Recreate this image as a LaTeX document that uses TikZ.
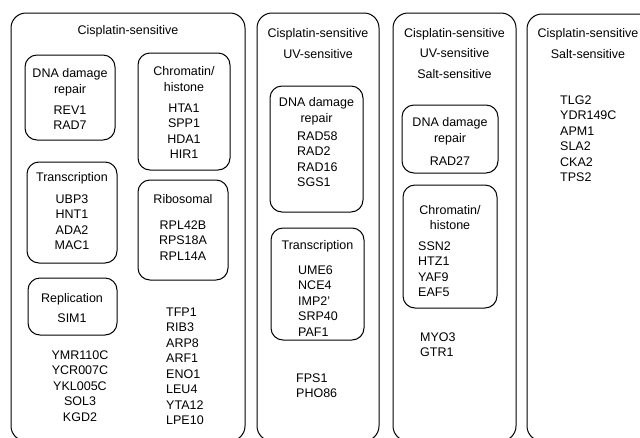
\documentclass[tikz,border=0pt]{standalone}
\usepackage{fontspec}
\setmainfont{Liberation Sans}
\usepackage{tikz}
\tikzset{
    panel/.style    = {draw, line width=1pt, rounded corners=15pt},
    cluster/.style  = {draw, line width=1pt, rounded corners=12pt},
    title/.style    = {align=center, anchor=north, inner sep=0pt,
        font=\fontsize{12.5}{20.5}\selectfont},
    genes/.style    = {align=center, anchor=north, inner sep=0pt},
    geneleft/.style = {align=left, anchor=north west, inner sep=0pt}
}

\begin{document}
\begin{tikzpicture}
            [
            x                 = 1pt,
            y                 = -1pt,
            every node/.style = {font=\fontsize{12.5}{15.5}\selectfont}
            ]
            \useasboundingbox (0,0) rectangle (640,437);
            \clip (0,0) rectangle (640,437);
            % outer panels
            \draw[panel] (11,13) rectangle (245,441);
            \draw[panel] (257,13) rectangle (379,441);
            \draw[panel] (393,13) rectangle (516,441);
            \draw[panel] (527,14) rectangle (660,441);
            % panel 1
            \node[title] (t1) at (128,25.5) {Cisplatin-sensitive};
            \draw[cluster] (25,55) rectangle (115,140);
            \node[genes] (dnaA) at (70,68.5) {DNA damage\\repair};
            \node[genes] (dnaAg) at (70,105.5) {REV1\\RAD7};
            \draw[cluster] (138,53) rectangle (230,170);
            \node[genes] (chrA) at (184,66.5) {Chromatin/\\histone};
            \node[genes] (chrAg) at (184,103.5) {HTA1\\SPP1\\HDA1\\HIR1};
            \draw[cluster] (27,162) rectangle (117,263);
            \node[genes] (trA) at (72,172.5) {Transcription};
            \node[genes] (trAg) at (72,194.5) {UBP3\\HNT1\\ADA2\\MAC1};
            \draw[cluster] (138,180) rectangle (228,280);
            \node[genes] (ribA) at (183,194.5) {Ribosomal};
            \node[genes] (ribAg) at (183,220.5) {RPL42B\\RPS18A\\RPL14A};
            \draw[cluster] (28,278) rectangle (117,335);
            \node[genes] (repA) at (72,293.5) {Replication};
            \node[genes] (repAg) at (72,313.5) {SIM1};
            \node[genes] (othA) at (80,350.5) {YMR110C\\YCR007C\\YKL005C\\SOL3\\KGD2};
            \node[geneleft] (othB) at (166,307.5) {TFP1\\RIB3\\ARP8\\ARF1\\ENO1\\LEU4\\YTA12\\LPE10};
            % panel 2
            \node[title] (t2) at (318,28.5) {Cisplatin-sensitive\\UV-sensitive};
            \draw[cluster] (270,86) rectangle (363,212);
            \node[genes] (dnaB) at (316.5,97.5) {DNA damage\\repair};
            \node[geneleft] (dnaBg) at (297,131.5) {RAD58\\RAD2\\RAD16\\SGS1};
            \draw[cluster] (271,228) rectangle (364,340);
            \node[genes] (trB) at (317.5,240.5) {Transcription};
            \node[geneleft] (trBg) at (298,265.5) {UME6\\NCE4\\IMP2'\\SRP40\\PAF1};
            \node[geneleft] (othC) at (296,373.5) {FPS1\\PHO86};
            % panel 3
            \node[title] (t3) at (454.5,28) {Cisplatin-sensitive\\UV-sensitive\\Salt-sensitive};
            \draw[cluster] (402,105) rectangle (498,173);
            \node[genes] (dnaC) at (450,117.5) {DNA damage\\repair};
            \node[genes] (dnaCg) at (450,156.5) {RAD27};
            \draw[cluster] (403,185) rectangle (497,308);
            \node[genes] (chrC) at (450,205) {Chromatin/\\histone};
            \node[geneleft] (chrCg) at (418,241.5) {SSN2\\HTZ1\\YAF9\\EAF5};
            \node[geneleft] (othD) at (420,332.5) {MYO3\\GTR1};
            % panel 4
            \node[title] (t4) at (588,28.5) {Cisplatin-sensitive\\Salt-sensitive};
            \node[geneleft] (othE) at (560,95.5) {TLG2\\YDR149C\\APM1\\SLA2\\CKA2\\TPS2};
    \end{tikzpicture}
\end{document}
